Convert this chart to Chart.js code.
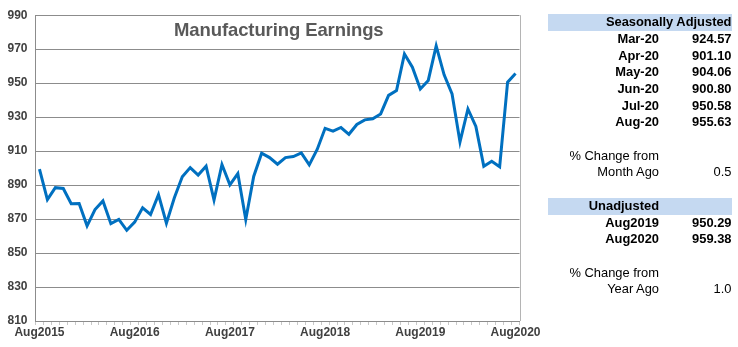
<!DOCTYPE html>
<html>
<head>
<meta charset="utf-8">
<script src="https://cdn.jsdelivr.net/npm/chart.js@4/dist/chart.umd.min.js"></script>
<style>
  html, body { margin: 0; padding: 0; background: #fff; }
  #wrap { position: relative; width: 738px; height: 347px; overflow: hidden; font-family: "Liberation Sans", Arial, sans-serif; }
  #chart { position: absolute; left: 0; top: 0; }
  #titolo { position: absolute; left: 174px; top: 19.6px; line-height: 20px; font-size: 18.5px; font-weight: bold; color: #595959; white-space: nowrap; letter-spacing: -0.1px; }
  #tabella { position: absolute; left: 548px; top: 14.3px; width: 184px; font-size: 12.9px; color: #000; }
  .riga { display: flex; height: 16.7px; line-height: 16.7px; white-space: nowrap; }
  .riga.testata { background: #c5d9f1; }
  .et { width: 111px; text-align: right; font-weight: bold; }
  .val { width: 72.5px; text-align: right; font-weight: bold; }
  .leggero { font-weight: normal; }
  .piena { width: 183.5px; text-align: right; font-weight: bold; }
</style>
</head>
<body>
<div id="wrap">
  <canvas id="chart" width="738" height="347"></canvas>
  <div id="titolo">Manufacturing Earnings</div>
  <div id="tabella"></div>
</div>
<script>
// --- DATI ---
const mesi = ['Aug', 'Sep', 'Oct', 'Nov', 'Dec', 'Jan', 'Feb', 'Mar', 'Apr', 'May', 'Jun', 'Jul'];
const annoIniziale = 2015;
const numMesi = 61;

// Guadagni medi settimanali (manifattura), ago 2015 - ago 2020
const guadagni = [
  899.4, 881.5, 888.5, 888.0, 879.0, 879.2, 866.0, 875.6, 880.7, 867.3, 869.8, 863.4,
  868.2, 876.6, 872.7, 884.4, 867.6, 882.5, 894.9, 900.3, 895.9, 901.1, 881.2, 902.1,
  890.2, 896.8, 869.8, 895.1, 908.8, 906.2, 902.3, 906.2, 906.8, 908.9, 901.9, 911.0,
  923.4, 921.8, 923.9, 919.9, 925.7, 928.4, 929.0, 931.9, 942.8, 945.6, 967.2, 959.4,
  946.6, 951.6, 971.9, 954.9, 943.6, 915.4, 934.8, 924.57, 901.10, 904.06, 900.80, 950.58,
  955.63
];

const yMin = 810;
const yMax = 990;
const yPasso = 20;

// Tabella a destra
const righeTabella = [
  { tipo: 'testata', testo: 'Seasonally Adjusted', piena: true },
  { et: 'Mar-20', val: '924.57' },
  { et: 'Apr-20', val: '901.10' },
  { et: 'May-20', val: '904.06' },
  { et: 'Jun-20', val: '900.80' },
  { et: 'Jul-20', val: '950.58' },
  { et: 'Aug-20', val: '955.63' },
  { et: '', val: '' },
  { et: '% Change from', val: '', leggero: true },
  { et: 'Month Ago', val: '0.5', leggero: true },
  { et: '', val: '' },
  { tipo: 'testata', et: 'Unadjusted', val: '' },
  { et: 'Aug2019', val: '950.29' },
  { et: 'Aug2020', val: '959.38' },
  { et: '', val: '' },
  { et: '% Change from', val: '', leggero: true },
  { et: 'Year Ago', val: '1.0', leggero: true }
];

// --- CATEGORIE ---
const categorie = [];
for (let i = 0; i < numMesi; i++) {
  const anno = annoIniziale + Math.floor((i + 7) / 12);
  categorie.push(mesi[i % 12] + anno);
}

// --- TABELLA ---
const tabella = document.getElementById('tabella');
righeTabella.forEach(r => {
  const riga = document.createElement('div');
  riga.className = 'riga' + (r.tipo === 'testata' ? ' testata' : '');
  if (r.piena) {
    riga.innerHTML = `<div class="piena">${r.testo}</div>`;
  } else {
    const cls = r.leggero ? ' leggero' : '';
    riga.innerHTML = `<div class="et${cls}">${r.et}</div><div class="val${cls}">${r.val}</div>`;
  }
  tabella.appendChild(riga);
});

// --- GRAFICO ---
const bordoDestro = {
  id: 'bordoDestro',
  afterDraw(chart) {
    const { ctx, chartArea } = chart;
    ctx.save();
    ctx.strokeStyle = '#b4b4b4';
    ctx.lineWidth = 1;
    ctx.beginPath();
    ctx.moveTo(Math.round(chartArea.right) + 0.5, chartArea.top);
    ctx.lineTo(Math.round(chartArea.right) + 0.5, chartArea.bottom);
    ctx.stroke();
    ctx.restore();
  }
};

Chart.defaults.font.family = "'Liberation Sans', Arial, sans-serif";
Chart.defaults.font.weight = 'bold';
Chart.defaults.color = '#404040';

new Chart(document.getElementById('chart'), {
  type: 'line',
  data: {
    labels: categorie,
    datasets: [{
      data: guadagni,
      borderColor: '#0070c0',
      borderWidth: 3,
      pointRadius: 0,
      tension: 0,
      fill: false
    }]
  },
  options: {
    responsive: false,
    animation: false,
    layout: { padding: { top: 13, right: 218.5, bottom: 0, left: 0 } },
    plugins: { legend: { display: false }, tooltip: { enabled: false } },
    scales: {
      x: {
        offset: true,
        grid: { offset: true, drawOnChartArea: false, tickLength: 4, color: '#c8c8c8' },
        border: { color: '#8c8c8c' },
        ticks: {
          autoSkip: false,
          maxRotation: 0,
          padding: 0,
          font: { size: 12 },
          callback: (v, i) => (i % 12 === 0 ? categorie[i] : '')
        },
        afterFit: s => { s.height = 26; }
      },
      y: {
        min: yMin,
        max: yMax,
        ticks: { stepSize: yPasso, padding: 8, font: { size: 12 } },
        grid: { color: '#8c8c8c', drawTicks: false, tickLength: 0 },
        border: { color: '#8c8c8c' },
        afterFit: s => { s.width = 35.5; }
      }
    }
  },
  plugins: [bordoDestro]
});
</script>
</body>
</html>
